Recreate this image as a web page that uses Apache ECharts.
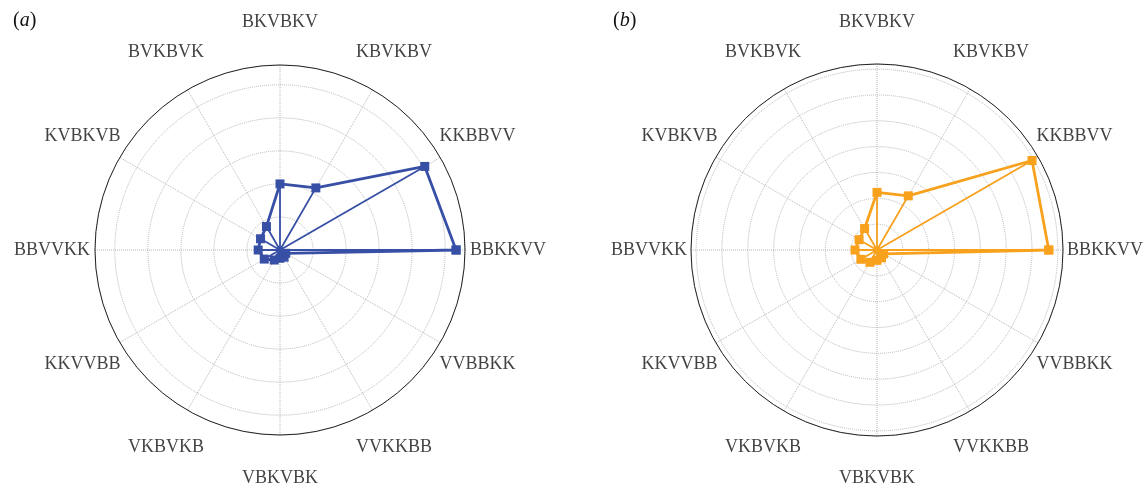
<!DOCTYPE html>
<html>
<head>
<meta charset="utf-8">
<script src="https://cdn.jsdelivr.net/npm/echarts@6/dist/echarts.min.js"></script>
<style>
  html, body { margin: 0; padding: 0; background: #fff; }
  #chart { width: 1148px; height: 490px; }
</style>
</head>
<body>
<div id="chart"></div>
<script>
// angle categories, counter-clockwise from 0 deg, one every 30 deg
var categories = ['BBKKVV', 'KKBBVV', 'KBVKBV', 'BKVBKV', 'BVKBVK', 'KVBKVB',
  'BBVVKK', 'KKVVBB', 'VKBVKB', 'VBKVBK', 'VVKKBB', 'VVBBKK'];
var valuesA = [5.33, 5.06, 2.17, 2.0, 0.82, 0.68, 0.66, 0.55, 0.35, 0.25, 0.25, 0.2];
var valuesB = [6.65, 6.93, 2.42, 2.23, 0.96, 0.8, 0.85, 0.72, 0.55, 0.4, 0.35, 0.3];
var radiusMaxA = 5.6;
var radiusMaxB = 7.2;
var panelNames = ['a', 'b'];

var serif = 'Liberation Serif';
var step = 360 / categories.length;
var chart = echarts.init(document.getElementById('chart'));

var panels = [
  { values: valuesA, max: radiusMaxA, color: '#3750a6', center: [280, 250], radius: 185, left: 8 },
  { values: valuesB, max: radiusMaxB, color: '#f7a11d', center: [877, 250], radius: 186, left: 608 }
];

var polar = [], angleAxis = [], radiusAxis = [], series = [], title = [];
var gridLine = { show: true, lineStyle: { color: '#b4b4b4', type: 'dotted', width: 1 } };

panels.forEach(function (p, k) {
  polar.push({ center: p.center, radius: p.radius });
  angleAxis.push({
    polarIndex: k,
    type: 'value',
    min: 0,
    max: 360,
    interval: step,
    startAngle: 0,
    clockwise: false,
    axisLine: { lineStyle: { color: '#222', width: 1 } },
    axisTick: { show: false },
    axisLabel: { show: false },
    splitLine: gridLine
  });
  radiusAxis.push({
    polarIndex: k,
    min: 0,
    max: p.max,
    interval: 1,
    axisLine: { show: false },
    axisTick: { show: false },
    axisLabel: { show: false },
    splitLine: gridLine
  });

  // closed polygon through the points
  var ring = p.values.map(function (v, i) { return [v, i * step]; });
  ring.push([p.values[0], 0]);
  // spokes from the centre to each point
  var spokes = [];
  p.values.forEach(function (v, i) { spokes.push([0, i * step], [v, i * step]); });
  // category labels centred on a ring outside the circle
  var labelR = p.max * 228 / p.radius;
  var labels = categories.map(function (c, i) { return { name: c, value: [labelR, i * step] }; });

  series.push({
    type: 'line', coordinateSystem: 'polar', polarIndex: k,
    data: spokes, symbol: 'none', silent: true,
    lineStyle: { color: p.color, width: 1.8 }, z: 3
  });
  series.push({
    type: 'line', coordinateSystem: 'polar', polarIndex: k,
    data: ring, symbol: 'rect', symbolSize: 9, showAllSymbol: true,
    itemStyle: { color: p.color },
    lineStyle: { color: p.color, width: 2.8 }, z: 4
  });
  series.push({
    type: 'scatter', coordinateSystem: 'polar', polarIndex: k,
    data: labels, symbolSize: 1, clip: false, silent: true,
    itemStyle: { color: 'transparent' },
    label: {
      show: true, position: 'inside', formatter: '{b}',
      fontFamily: serif, fontSize: 18, color: '#111'
    }
  });

  title.push({
    text: '{n|(}{i|' + panelNames[k] + '}{n|)}',
    left: p.left, top: 6,
    textStyle: {
      rich: {
        n: { fontFamily: serif, fontSize: 20, fontWeight: 'normal', color: '#111' },
        i: { fontFamily: serif, fontSize: 20, fontWeight: 'normal', fontStyle: 'italic', color: '#111' }
      }
    }
  });
});

chart.setOption({
  animation: false,
  title: title,
  polar: polar,
  angleAxis: angleAxis,
  radiusAxis: radiusAxis,
  series: series
});
</script>
</body>
</html>
